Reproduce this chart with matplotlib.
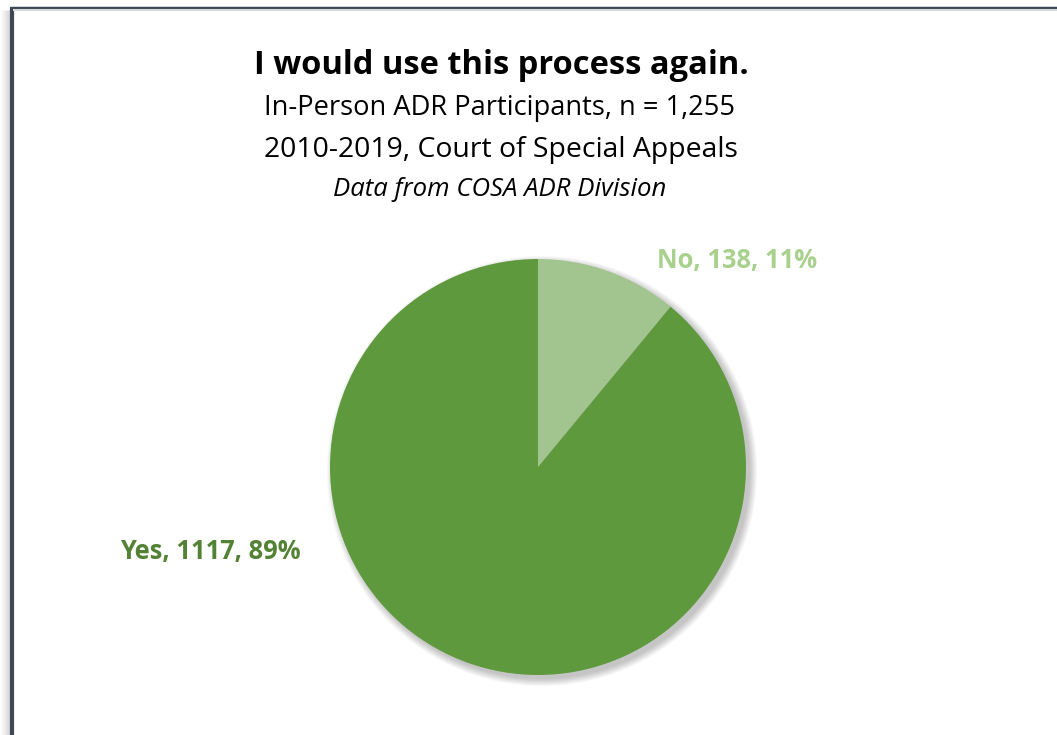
import numpy as np
import matplotlib.pyplot as plt
from matplotlib.patches import Circle

plt.rcParams['font.family'] = ['Open Sans', 'DejaVu Sans']

labels = ['No', 'Yes']
counts = [138, 1117]
slice_colors = ['#a2c48f', '#5f993e']
label_colors = ['#a9d18e', '#548235']

title = 'I would use this process again.'
subtitles = ['In-Person ADR Participants, n = 1,255',
             '2010-2019, Court of Special Appeals']
source = 'Data from COSA ADR Division'

W, H = 1057, 735
fig = plt.figure(figsize=(W / 100, H / 100), dpi=100)
ax = fig.add_axes([0, 0, 1, 1])

# chart frame with a soft shadow to the left
for i, a in enumerate(np.linspace(0.02, 0.25, 10)):
    ax.plot([1 + i, 1 + i], [0, H - 10], color='black', alpha=a * 0.5, lw=1,
            solid_capstyle='butt')
ax.plot([11.5, 11.5], [0, H - 7], color='#3f4756', lw=3, solid_capstyle='butt')
ax.plot([10, W], [H - 7.5, H - 7.5], color='#3f4756', lw=2.5, solid_capstyle='butt')
ax.plot([13, W], [H - 10, H - 10], color='#d8d8d8', lw=1.5, solid_capstyle='butt')

cx, cy, r = 538, H - 467, 208

# blurred shadow under the pie, offset to the lower right
for k in range(10):
    ax.add_patch(Circle((cx + 4, cy - 4), r + k * 0.8, color='black',
                        alpha=0.025, lw=0, zorder=1))

total = sum(counts)
ax.pie(counts, colors=slice_colors, startangle=90, counterclock=False,
       center=(cx, cy), radius=r, frame=True,
       wedgeprops=dict(linewidth=0, zorder=2))
ax.set_xlim(0, W)
ax.set_ylim(0, H)
ax.set_aspect('equal')
ax.axis('off')

label_pos = [(737, H - 260), (210, H - 552)]
for lab, n, col, (x, y) in zip(labels, counts, label_colors, label_pos):
    pct = round(n / total * 100)
    ax.text(x, y, f'{lab}, {n}, {pct}%', color=col, fontsize=18.4,
            fontweight='bold', ha='center', va='center')

ax.text(501, H - 65, title, fontsize=23.5, fontweight='bold', ha='center',
        va='center', color='black')
ax.text(500, H - 108, subtitles[0], fontsize=19.6, ha='center', va='center',
        color='black')
ax.text(501, H - 150, subtitles[1], fontsize=20.4, ha='center', va='center',
        color='black')
ax.text(500, H - 189, source, fontsize=18.5, style='italic', ha='center',
        va='center', color='black')

fig.savefig('out.png', dpi=100)
